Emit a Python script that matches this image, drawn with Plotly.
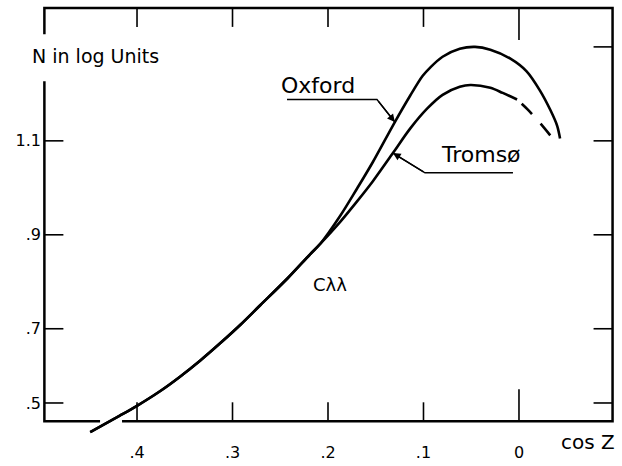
import plotly.graph_objects as go

# ---- data: N (log units) against cos Z ----
OXFORD_COSZ = [0.449, 0.418, 0.400, 0.376, 0.355, 0.334, 0.313, 0.292, 0.271, 0.242,
               0.219, 0.208, 0.187, 0.170, 0.153, 0.130, 0.114, 0.101, 0.093, 0.080,
               0.062, 0.046, 0.030, 0.009, -0.008, -0.022, -0.033, -0.040, -0.043]
OXFORD_N = [0.480, 0.515, 0.536, 0.567, 0.598, 0.632, 0.669, 0.708, 0.750, 0.808,
            0.858, 0.881, 0.941, 0.997, 1.055, 1.140, 1.196, 1.238, 1.256, 1.279,
            1.296, 1.300, 1.294, 1.275, 1.248, 1.207, 1.165, 1.132, 1.105]

TROMSO_COSZ = [0.449, 0.418, 0.400, 0.376, 0.355, 0.334, 0.313, 0.292, 0.271, 0.242,
               0.219, 0.208, 0.187, 0.170, 0.153, 0.132, 0.114, 0.096, 0.080, 0.062,
               0.051, 0.030, 0.017, 0.002, -0.009, -0.022, -0.033]
TROMSO_N = [0.480, 0.515, 0.536, 0.567, 0.598, 0.632, 0.669, 0.708, 0.750, 0.808,
            0.858, 0.881, 0.928, 0.970, 1.014, 1.074, 1.126, 1.169, 1.198, 1.215,
            1.219, 1.213, 1.202, 1.188, 1.167, 1.138, 1.111]
TROMSO_DASH_FROM = 0.002   # below this cos Z the Tromsø curve is dashed

X_TICKS = [0.4, 0.3, 0.2, 0.1, 0.0]
X_TICK_TEXT = [".4", ".3", ".2", ".1", "0"]
Y_TICKS = [0.542, 0.7, 0.9, 1.1]
Y_TICK_TEXT = [".5", ".7", ".9", "1.1"]
Y_TICKS_RIGHT = [0.542, 0.7, 0.9, 1.1, 1.3]

# ---- geometry ----
X_RANGE = [0.5016, -0.1037]
Y_RANGE = [0.4717, 1.3913]
FRAME_X = [0.497, -0.098]
FRAME_Y = [0.503, 1.383]
LEFT_GAP = [1.227, 1.327]     # opening in the left border for the axis caption
BOTTOM_GAP = [0.4387, 0.4157]  # opening where the curve leaves the frame

FONT = "DejaVu Sans"
INK = "black"
CURVE = dict(color=INK, width=2.6, shape="spline", smoothing=0.9)

fig = go.Figure()

fig.add_trace(go.Scatter(
    x=OXFORD_COSZ, y=OXFORD_N, mode="lines", name="Oxford",
    line=CURVE, hoverinfo="skip"))

solid = [(c, n) for c, n in zip(TROMSO_COSZ, TROMSO_N) if c >= TROMSO_DASH_FROM]
dashed = [(c, n) for c, n in zip(TROMSO_COSZ, TROMSO_N) if c <= TROMSO_DASH_FROM]
fig.add_trace(go.Scatter(
    x=[p[0] for p in solid], y=[p[1] for p in solid], mode="lines", name="Tromsø",
    line=CURVE, hoverinfo="skip"))
fig.add_trace(go.Scatter(
    x=[p[0] for p in dashed], y=[p[1] for p in dashed], mode="lines",
    name="Tromsø (extrapolated)",
    line=dict(CURVE, dash="0px,6px,15px,7px"), hoverinfo="skip"))

shapes = []
frame_line = dict(color=INK, width=2.5)
# frame, drawn as two open paths so the gaps stay open
shapes.append(dict(
    type="path", xref="x", yref="y", line=frame_line,
    path=f"M {FRAME_X[0]} {LEFT_GAP[0]} L {FRAME_X[0]} {FRAME_Y[0]} "
         f"L {BOTTOM_GAP[0]} {FRAME_Y[0]}"))
shapes.append(dict(
    type="path", xref="x", yref="y", line=frame_line,
    path=f"M {BOTTOM_GAP[1]} {FRAME_Y[0]} L {FRAME_X[1]} {FRAME_Y[0]} "
         f"L {FRAME_X[1]} {FRAME_Y[1]} L {FRAME_X[0]} {FRAME_Y[1]} "
         f"L {FRAME_X[0]} {LEFT_GAP[1]}"))

tick_line = dict(color=INK, width=1.6)
for v in X_TICKS:
    ln = 32 if v == 0 else 19
    shapes.append(dict(type="line", xref="x", yref="y", ysizemode="pixel",
                       yanchor=FRAME_Y[0], x0=v, x1=v, y0=0, y1=ln, line=tick_line))
    shapes.append(dict(type="line", xref="x", yref="y", ysizemode="pixel",
                       yanchor=FRAME_Y[1], x0=v, x1=v, y0=0, y1=-ln, line=tick_line))
for v in Y_TICKS:
    shapes.append(dict(type="line", xref="x", yref="y", xsizemode="pixel",
                       xanchor=FRAME_X[0], x0=0, x1=19, y0=v, y1=v, line=tick_line))
for v in Y_TICKS_RIGHT:
    shapes.append(dict(type="line", xref="x", yref="y", xsizemode="pixel",
                       xanchor=FRAME_X[1], x0=0, x1=-19, y0=v, y1=v, line=tick_line))

# leader lines from the station labels to their curves
ox_tip = 15   # index on the Oxford curve
tr_tip = 15   # index on the Tromsø curve
ox_leader = [(0.2429, 1.188), (0.1487, 1.188)]
tr_leader = [(0.0063, 1.032), (0.0984, 1.032)]
leaders = ((ox_leader, (OXFORD_COSZ[ox_tip], OXFORD_N[ox_tip])),
           (tr_leader, (TROMSO_COSZ[tr_tip], TROMSO_N[tr_tip])))
for pts, tip in leaders:
    path = f"M {pts[0][0]} {pts[0][1]} L {pts[1][0]} {pts[1][1]} L {tip[0]} {tip[1]}"
    shapes.append(dict(type="path", xref="x", yref="y", path=path,
                       line=dict(color=INK, width=1.4)))

annotations = []
for pts, tip in leaders:
    annotations.append(dict(
        x=tip[0], y=tip[1], ax=pts[1][0], ay=pts[1][1], axref="x", ayref="y",
        xref="x", yref="y", showarrow=True, arrowhead=2, arrowsize=1.1,
        arrowwidth=1.4, arrowcolor=INK, font=dict(size=1)))


def label(text, x, y, size, **kw):
    d = dict(text=text, x=x, y=y, xref="x", yref="y", showarrow=False,
             font=dict(family=FONT, size=size, color=INK),
             xanchor="center", yanchor="middle")
    d.update(kw)
    annotations.append(d)


label("Oxford", 0.210, 1.217, 22)
label("Tromsø", 0.040, 1.070, 22)
label("Cλλ", 0.198, 0.7935, 18)
label("N in log Units", 0.444, 1.281, 19)
label("cos Z", -0.0723, 0, 20, yref="paper", yshift=-6)

fig.update_layout(
    width=622, height=466,
    margin=dict(l=40, r=4, t=4, b=19),
    paper_bgcolor="white", plot_bgcolor="white",
    showlegend=False,
    font=dict(family=FONT, color=INK),
    shapes=shapes, annotations=annotations,
    xaxis=dict(range=X_RANGE, tickvals=X_TICKS, ticktext=X_TICK_TEXT,
               showline=False, showgrid=False, zeroline=False, ticks="",
               ticklabelstandoff=5,
               tickfont=dict(family=FONT, size=16, color=INK)),
    yaxis=dict(range=Y_RANGE, tickvals=Y_TICKS, ticktext=Y_TICK_TEXT,
               showline=False, showgrid=False, zeroline=False, ticks="",
               ticklabelstandoff=-2,
               tickfont=dict(family=FONT, size=16, color=INK)),
)

fig.write_html("out.html")
